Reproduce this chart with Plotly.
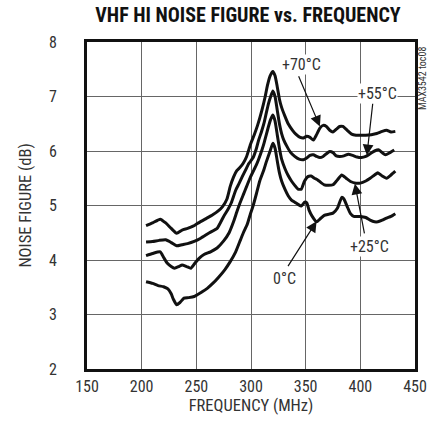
import plotly.graph_objects as go

# ---- data ----
f_70 = [204, 210, 217, 222, 227, 232, 237, 242, 247, 251, 258, 265, 270, 274, 278, 281, 284, 287, 290, 293, 296,
        299.5, 303, 306, 310, 313, 315, 317.5, 320, 322, 324, 326, 328, 331, 334, 338, 341, 345, 348, 351, 354, 357,
        360, 363, 366, 369, 372, 375, 378, 381, 384, 388, 392, 396, 400, 405, 410, 415, 420, 424, 428, 432]
nf_70 = [4.63, 4.68, 4.75, 4.68, 4.58, 4.49, 4.55, 4.58, 4.62, 4.67, 4.75, 4.83, 4.9, 4.98, 5.12, 5.35, 5.52, 5.64,
         5.7, 5.78, 5.9, 6.12, 6.3, 6.47, 6.75, 7.0, 7.2, 7.38, 7.46, 7.38, 7.18, 6.95, 6.8, 6.64, 6.5, 6.38, 6.31,
         6.25, 6.24, 6.27, 6.25, 6.2, 6.3, 6.42, 6.47, 6.45, 6.38, 6.35, 6.4, 6.45, 6.45, 6.38, 6.31, 6.29, 6.29,
         6.29, 6.3, 6.32, 6.36, 6.38, 6.35, 6.36]

f_55 = [204, 210, 216, 222, 227, 232, 237, 242, 248, 254, 262, 269, 275, 279, 282, 286, 289, 292, 295, 298, 302,
        305, 307, 309.5, 312, 314, 316, 318, 320, 322, 324, 326, 328, 330, 333, 336, 340, 344, 348, 351, 354, 357,
        360, 363, 366, 369, 372, 375, 378, 381, 385, 389, 393, 397, 401, 405, 409, 413, 417, 420, 423, 427, 431]
nf_55 = [4.33, 4.34, 4.36, 4.37, 4.32, 4.26, 4.28, 4.3, 4.34, 4.4, 4.5, 4.58, 4.8, 4.93, 5.05, 5.28, 5.4, 5.53,
         5.65, 5.77, 5.88, 6.05, 6.2, 6.35, 6.52, 6.7, 6.87, 7.0, 7.1, 7.0, 6.75, 6.5, 6.32, 6.2, 6.08, 5.98, 5.9,
         5.85, 5.84, 5.87, 5.92, 5.93, 5.9, 5.88, 5.9, 5.95, 5.99, 5.97, 5.91, 5.9, 5.91, 5.94, 5.92, 5.89, 5.88,
         5.9, 5.95, 6.0, 6.02, 5.97, 5.93, 5.97, 6.02]

f_25 = [204, 210, 217, 220, 223.5, 227, 230, 234, 237, 241, 245, 249, 252.5, 257, 263, 269, 275, 280, 284, 287,
        290, 293, 296, 299, 302.6, 305, 307, 310, 312, 314, 316, 318, 320, 322, 324, 326, 328, 331, 334, 337, 340,
        343, 346, 349, 352, 355, 358, 361, 364, 367, 371, 375, 379, 383, 387, 391, 396, 400, 405, 409, 413, 416,
        420, 424, 428, 432]
nf_25 = [4.08, 4.12, 4.15, 4.05, 3.94, 3.88, 3.85, 3.88, 3.91, 3.88, 3.85, 3.95, 4.03, 4.1, 4.15, 4.22, 4.35, 4.5,
         4.7, 4.88, 5.05, 5.2, 5.35, 5.5, 5.65, 5.75, 5.85, 6.02, 6.15, 6.3, 6.45, 6.58, 6.66, 6.55, 6.3, 6.05, 5.85,
         5.68, 5.55, 5.45, 5.37, 5.3, 5.3, 5.45, 5.53, 5.54, 5.5, 5.47, 5.42, 5.38, 5.37, 5.38, 5.47, 5.56, 5.5,
         5.44, 5.41, 5.41, 5.45, 5.5, 5.56, 5.6, 5.54, 5.5, 5.56, 5.63]

f_0 = [204, 210, 215, 220, 224, 227, 229, 232, 235, 238.7, 243, 248, 254, 260, 265, 270.6, 276, 281, 286, 290.4,
       293, 296.5, 299.5, 302, 305, 308, 311.7, 314, 317.8, 320, 322, 324, 326, 328, 331, 334, 337, 340, 343, 346,
       349, 351, 353, 356, 360, 363, 367, 371, 375, 379, 383, 385, 388, 391, 394, 400, 405, 409, 413, 416, 420,
       424, 428, 432]
nf_0 = [3.6, 3.57, 3.53, 3.51, 3.47, 3.38, 3.28, 3.18, 3.22, 3.3, 3.31, 3.33, 3.4, 3.48, 3.57, 3.69, 3.82, 3.97,
        4.15, 4.37, 4.5, 4.65, 4.85, 5.0, 5.22, 5.45, 5.65, 5.8, 6.02, 6.14, 6.05, 5.82, 5.6, 5.45, 5.3, 5.18, 5.1,
        5.06, 5.02, 4.99, 5.06, 5.05, 4.92, 4.8, 4.7, 4.75, 4.82, 4.84, 4.86, 4.95, 5.15, 5.12, 4.98, 4.85, 4.8,
        4.8, 4.78, 4.73, 4.7, 4.7, 4.73, 4.77, 4.8, 4.85]

x_ticks = [150, 200, 250, 300, 350, 400, 450]
y_ticks = [2, 3, 4, 5, 6, 7, 8]

# labels: (text, text_x, text_y, arrow_tail_x, arrow_tail_y, arrow_tip_x, arrow_tip_y)
labels = [
    ("+70°C", 346, 7.58, 343, 7.40, 363, 6.45),
    ("+55°C", 416, 7.05, 411.5, 6.90, 406, 5.92),
    ("+25°C", 408, 4.25, 404, 4.46, 395, 5.40),
    ("0°C", 331, 3.66, 333, 3.86, 360, 4.71),
]

FONT = "Roboto Condensed, DejaVu Sans Condensed, Liberation Sans Narrow, Roboto, sans-serif"
TXT = "#333333"

fig = go.Figure()
for fx, fy in [(f_70, nf_70), (f_55, nf_55), (f_25, nf_25), (f_0, nf_0)]:
    fig.add_trace(go.Scatter(x=fx, y=fy, mode="lines",
                             line=dict(color="#111111", width=3, shape="spline", smoothing=0.5),
                             showlegend=False, hoverinfo="skip"))

annotations = []
for text, tx, ty, ax, ay, hx, hy in labels:
    annotations.append(dict(x=hx, y=hy, ax=ax, ay=ay, xref="x", yref="y", axref="x", ayref="y",
                            text="", showarrow=True, arrowhead=2, arrowsize=1.8, arrowwidth=1.2,
                            arrowcolor="#111111", standoff=0))
    annotations.append(dict(x=tx, y=ty, xref="x", yref="y", text=text, showarrow=False,
                            font=dict(family=FONT, size=16, color=TXT), bgcolor="white",
                            borderpad=0))

annotations.append(dict(x=(422 - 87) / (429 - 87 - 14), y=(431 - 78 - 62) / (431 - 42 - 62),
                        xref="paper", yref="paper", xanchor="center", yanchor="middle",
                        text="MAX3542 toc08", showarrow=False,
                        textangle=-90, font=dict(family=FONT, size=10, color=TXT)))

fig.update_layout(
    width=429, height=431,
    margin=dict(l=87, r=14, t=42, b=62, autoexpand=False),
    paper_bgcolor="white", plot_bgcolor="white",
    title=dict(text="<b>VHF HI NOISE FIGURE vs. FREQUENCY</b>", x=248 / 429, xanchor="center",
               y=1 - 15 / 431, yanchor="middle", font=dict(family=FONT, size=20, color="#111111")),
    annotations=annotations,
)

fig.update_xaxes(range=[150, 450], tickvals=x_ticks, showgrid=True, gridcolor="#666666", gridwidth=1,
                 showline=True, linecolor="#111111", linewidth=3, mirror=True, zeroline=False,
                 ticks="", ticklabelstandoff=1, automargin=False,
                 tickfont=dict(family=FONT, size=16, color=TXT),
                 title=dict(text="FREQUENCY (MHz)", font=dict(family=FONT, size=16.5, color=TXT), standoff=5))
fig.update_yaxes(range=[2, 8], tickvals=y_ticks, showgrid=True, gridcolor="#666666", gridwidth=1,
                 showline=True, linecolor="#111111", linewidth=3, mirror=True, zeroline=False,
                 ticks="", ticklabelstandoff=24, automargin=False,
                 tickfont=dict(family=FONT, size=16, color=TXT),
                 title=dict(text="NOISE FIGURE (dB)", font=dict(family=FONT, size=16.5, color=TXT), standoff=14))

fig.write_html("out.html", config={"displayModeBar": False},
               post_script="document.body.style.margin='0';document.body.style.overflow='hidden';")
